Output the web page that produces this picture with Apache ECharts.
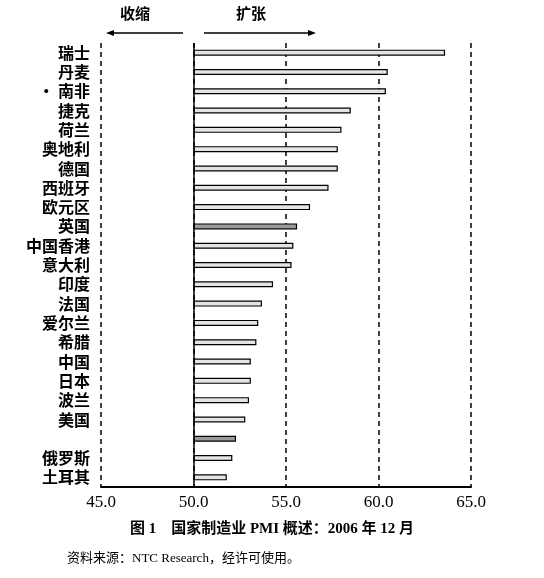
<!DOCTYPE html>
<html>
<head>
<meta charset="utf-8">
<script src="https://cdn.jsdelivr.net/npm/echarts@6/dist/echarts.min.js"></script>
<style>
  html, body { margin: 0; padding: 0; background: #fff; }
  #main { width: 544px; height: 578px; }
</style>
</head>
<body>
<div id="main"></div>
<script>
// countries, top to bottom (one bar in the original has no label)
var countries = ['瑞士', '丹麦', '· 南非', '捷克', '荷兰', '奥地利', '德国', '西班牙', '欧元区', '英国',
  '中国香港', '意大利', '印度', '法国', '爱尔兰', '希腊', '中国', '日本', '波兰', '美国', '', '俄罗斯', '土耳其']
var pmi = [63.6, 60.5, 60.4, 58.5, 58.0, 57.8, 57.8, 57.3, 56.3, 55.6,
  55.4, 55.3, 54.3, 53.7, 53.5, 53.4, 53.1, 53.1, 53.0, 52.8, 52.3, 52.1, 51.8]
var darkBars = ['英国', '']
var xTicks = [45, 50, 55, 60, 65]
var baseline = 50

var myChart = echarts.init(document.getElementById('main'))

var serif = '"Liberation Serif", "Noto Sans CJK SC", serif'
var cjk = '"Noto Sans CJK SC", sans-serif'

// the scanned figure prints a few labels a little off their bars
var labelShift = { '美国': [16, 0, 0, 0], '俄罗斯': [0, 0, 12, 0], '土耳其': [0, 0, 10, 0] }

myChart.setOption({
    animation: false,
    backgroundColor: '#fff',
    grid: { left: 101, right: 73, top: 43, bottom: 91 },
    xAxis: {
        type: 'value',
        min: xTicks[0],
        max: xTicks[xTicks.length - 1],
        interval: 5,
        axisLine: { show: true, lineStyle: { color: '#000', width: 2 } },
        axisTick: { show: false },
        axisLabel: {
            color: '#000', fontFamily: serif, fontSize: 17, margin: 7,
            formatter: function (v) { return v.toFixed(1) }
        },
        splitLine: { show: true, lineStyle: { color: '#000', width: 1.5, type: [5, 4] } }
    },
    yAxis: {
        type: 'category',
        inverse: true,
        data: countries.map(function (c) {
            return labelShift[c] ? { value: c, textStyle: { padding: labelShift[c] } } : c
        }),
        axisLine: { show: false },
        axisTick: { show: false },
        axisLabel: { interval: 0, color: '#000', fontFamily: cjk, fontSize: 16, fontWeight: 'bold', margin: 11, lineHeight: 16 }
    },
    series: [
        {
            type: 'bar',
            stack: 'pmi',
            barWidth: 6,
            itemStyle: { color: 'transparent' },
            data: pmi.map(function () { return baseline }),
            markLine: {
                silent: true,
                symbol: 'none',
                label: { show: false },
                lineStyle: { color: '#000', width: 1.5, type: 'solid' },
                data: [{ xAxis: baseline }]
            }
        },
        {
            type: 'bar',
            stack: 'pmi',
            barWidth: 6,
            data: pmi.map(function (v, i) {
                var dark = darkBars.indexOf(countries[i]) >= 0
                return {
                    value: +(v - baseline).toFixed(2),
                    itemStyle: { color: dark ? '#9a9a9a' : '#e4e4e4', borderColor: '#000', borderWidth: 1.2 }
                }
            })
        }
    ],
    graphic: [
        { type: 'text', left: 120, top: 6, style: { text: '收缩', font: 'bold 15px "Noto Sans CJK SC"', fill: '#000' } },
        { type: 'text', left: 236, top: 6, style: { text: '扩张', font: 'bold 15px "Noto Sans CJK SC"', fill: '#000' } },
        { type: 'line', shape: { x1: 183, y1: 33, x2: 112, y2: 33 }, style: { stroke: '#000', lineWidth: 1.5 } },
        { type: 'polygon', shape: { points: [[106, 33], [114, 30], [114, 36]] }, style: { fill: '#000' } },
        { type: 'line', shape: { x1: 204, y1: 33, x2: 310, y2: 33 }, style: { stroke: '#000', lineWidth: 1.5 } },
        { type: 'polygon', shape: { points: [[316, 33], [308, 30], [308, 36]] }, style: { fill: '#000' } },
        {
            type: 'text', left: 'center', top: 522,
            style: { text: '图 1　国家制造业 PMI 概述：2006 年 12 月', font: 'bold 15px "Liberation Serif", "Noto Sans CJK SC"', fill: '#000' }
        },
        {
            type: 'text', left: 67, top: 552,
            style: { text: '资料来源：NTC Research，经许可使用。', font: '13px "Liberation Serif", "Noto Sans CJK SC"', fill: '#000' }
        }
    ]
})
</script>
</body>
</html>
